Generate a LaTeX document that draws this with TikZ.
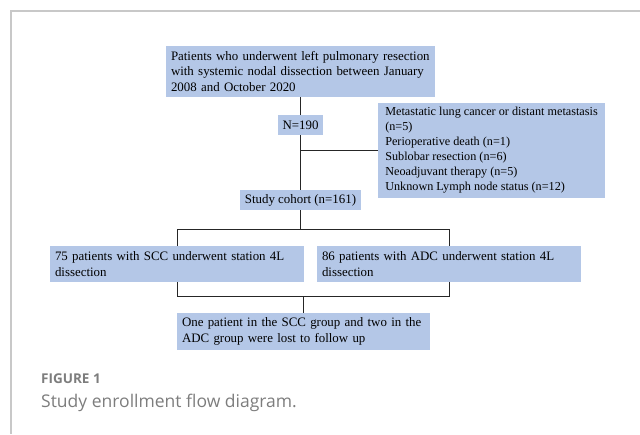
\documentclass[tikz,border=0pt]{standalone}
\usepackage{fontspec}
\setmainfont{Liberation Serif}
\newfontfamily\capfont{Open Sans}
\usepackage{tikz}
\usetikzlibrary{positioning}
\definecolor{boxblue}{RGB}{180,199,231}
\definecolor{framegray}{RGB}{200,200,200}
\definecolor{capgray}{RGB}{125,125,125}
\tikzstyle{flowbox} = [rectangle, fill=boxblue, align=left, inner xsep=5pt, inner ysep=0pt, font=\fontsize{12.9}{15.5}\selectfont]
\tikzstyle{smallbox} = [rectangle, fill=boxblue, align=center, inner xsep=3pt, inner ysep=0pt, font=\fontsize{12.9}{15.5}\selectfont]
\tikzstyle{link} = [draw=black!85, line width=0.9pt]

\begin{document}
\begin{tikzpicture}[x=1pt, y=1pt, node distance=50pt]
\useasboundingbox (0,0) rectangle (640,434);
\draw[framegray, line width=1.2pt] (640,423) -- (11,423) -- (11,0);

\node (top) [flowbox, text width=259pt, minimum height=51pt] at (300.5,362.5) {Patients who underwent left pulmonary resection\\ with systemic nodal dissection between January\\ 2008 and October 2020};
\node (n190) [smallbox, minimum width=45pt, minimum height=20pt, below of=top, yshift=-3.5pt] {N=190};
\node (excl) [flowbox, inner xsep=0pt, minimum width=227pt, minimum height=95pt, font=\fontsize{12.2}{15}\selectfont, below of=n190, xshift=191pt, yshift=24.5pt] {Metastatic lung cancer or distant metastasis\\ (n=5)\\ Perioperative death (n=1)\\ Sublobar resection (n=6)\\ Neoadjuvant therapy (n=5)\\ Unknown Lymph node status (n=12)};
\node (cohort) [smallbox, minimum width=121pt, minimum height=20pt, below of=n190, yshift=-25pt] {Study cohort (n=161)};
\node (scc) [flowbox, text width=244pt, minimum height=36pt, below of=cohort, xshift=-123.5pt, yshift=-14pt] {75 patients with SCC underwent station 4L\\ dissection};
\node (adc) [flowbox, text width=254pt, minimum height=36pt, below of=cohort, xshift=148.5pt, yshift=-14pt] {86 patients with ADC underwent station 4L\\ dissection};
\node (lost) [flowbox, text width=243pt, minimum height=37pt, below of=scc, xshift=126.5pt, yshift=-17.5pt] {One patient in the SCC group and two in the\\ ADC group were lost to follow up};

\coordinate[below=19pt of cohort] (split);
\coordinate[above=16pt of lost] (join);

\draw[link] (top) -- (n190);
\draw[link] (n190) -- (cohort);
\draw[link] (excl.west) -- (excl.west -| n190.south);
\draw[link] (cohort) -- (split);
\draw[link] (scc.north) |- (split) -| (adc.north);
\draw[link] (scc.south) |- (join) -| (adc.south);
\draw[link] (join) -- (lost);

\node (figlabel) [anchor=base west, inner sep=0pt, text=capgray, font=\capfont\bfseries\fontsize{13.5}{15}\selectfont] at (41,51) {FIGURE 1};
\node (figcaption) [anchor=base west, inner sep=0pt, text=capgray, font=\capfont\fontsize{17.5}{20}\selectfont] at (41,27) {Study enrollment flow diagram.};
\end{tikzpicture}
\end{document}
